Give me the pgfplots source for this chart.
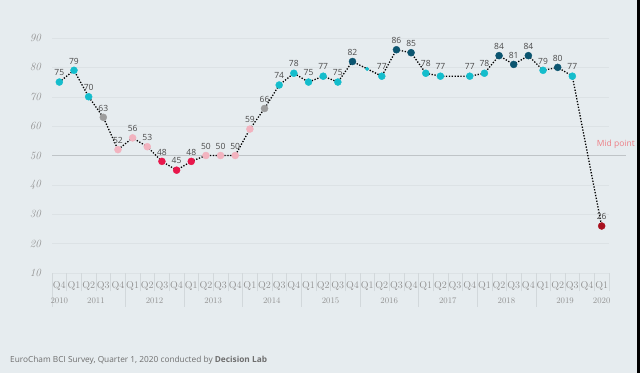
\documentclass[border=0pt]{standalone}
\usepackage{fontspec}
\usepackage{pgfplots}
\usepackage{pgfplotstable}
\pgfplotsset{compat=1.18}
\newfontfamily\opensans{Open Sans}
\definecolor{bgc}{HTML}{E6ECEF}
\definecolor{gridc}{HTML}{DCE2E5}
\definecolor{cellc}{HTML}{D2D8DB}
\definecolor{midc}{HTML}{BFC4C7}
\definecolor{tickc}{HTML}{929292}
\definecolor{labc}{HTML}{4A4A4A}
\definecolor{footc}{HTML}{6E6E6E}
\definecolor{midtxt}{HTML}{EE7F86}
\definecolor{cyanc}{HTML}{14BDCC}
\definecolor{darkc}{HTML}{0B5570}
\definecolor{grayc}{HTML}{9C9C9C}
\definecolor{pinkc}{HTML}{F2B3BF}
\definecolor{redc}{HTML}{E8174B}
\definecolor{dredc}{HTML}{A8101E}

\tikzset{yrlab/.style={anchor=base, font=\fontsize{8.5}{9}\selectfont\addfontfeatures{Numbers=OldStyle}, text=tickc, yshift=-30pt}}
\pgfplotsset{pts/.style={only marks, mark=*, mark size=3.5pt, mark options={draw=#1, fill=#1}, color=#1,
    nodes near coords={\pgfmathprintnumber[int detect, assume math mode=true]{\pgfplotspointmeta}},
    point meta=y,
    every node near coord/.append style={font=\opensans\fontsize{8.5}{9}\selectfont, text=labc, anchor=south, yshift=5.5pt, inner sep=0.5pt}}}

% whole series (for the dotted line)
\pgfplotstableread{
x y
0 75
1 79
2 70
3 63
4 52
5 56
6 53
7 48
8 45
9 48
10 50
11 50
12 50
13 59
14 66
15 74
16 78
17 75
18 77
19 75
20 82
21 79.5
22 77
23 86
24 85
25 78
26 77
28 77
29 78
30 84
31 81
32 84
33 79
34 80
35 77
37 26
}\bcidata

\begin{document}
\begin{tikzpicture}[x=1pt,y=1pt]
\fill[bgc] (0,0) rectangle (640,373);
\fill[black] (636.5,0) rectangle (640,373);
\begin{axis}[
  at={(52pt,100pt)}, anchor=south west,
  scale only axis, width=557pt, height=235pt,
  xmin=-0.5, xmax=37.5, ymin=10, ymax=90,
  clip=false,
  axis line style={draw=none},
  tick pos=left,
  tick align=outside,
  major tick length=0pt,
  minor tick length=18pt,
  minor x tick style={color=cellc, line width=0.4pt},
  ytick={10,20,30,40,50,60,70,80,90},
  yticklabels={10,20,30,40,50,60,70,80,90},
  yticklabel style={font=\fontsize{11}{11}\selectfont\itshape\addfontfeatures{Numbers=OldStyle}, text=tickc, anchor=east, inner sep=0pt, xshift=-11pt},
  ymajorgrids, grid style={color=gridc, line width=0.5pt},
  xtick={0,...,37},
  xticklabels={Q4,Q1,Q2,Q3,Q4,Q1,Q2,Q3,Q4,Q1,Q2,Q3,Q4,Q1,Q2,Q3,Q4,Q1,Q2,Q3,Q4,Q1,Q2,Q3,Q4,Q1,Q2,Q3,Q4,Q1,Q2,Q3,Q4,Q1,Q2,Q3,Q4,Q1},
  xticklabel style={font=\fontsize{10}{10}\selectfont\addfontfeatures{Numbers=OldStyle}, text=tickc, anchor=base, yshift=-15pt, inner sep=0pt},
  minor xtick={-0.5,0.5,...,37.5},
]
\draw[midc, line width=0.6pt] (axis cs:-0.5,50) -- (axis cs:38.65,50);
\pgfplotsinvokeforeach{-0.5,4.5,8.5,12.5,16.5,20.5,24.5,28.5,32.5}{
  \draw[cellc, line width=0.4pt] (axis cs:#1,10) -- ([yshift=-34pt]axis cs:#1,10);
}
\addplot[black, line width=1.3pt, dash pattern=on 1.3pt off 1.6pt, mark=none] table[x=x,y=y]{\bcidata};
% cyan
\addplot[pts=cyanc] coordinates {(0,75)(1,79)(2,70)(15,74)(16,78)(17,75)(18,77)(19,75)(22,77)(25,78)(26,77)(28,77)(29,78)(33,79)(35,77)};
% dark teal
\addplot[pts=darkc] coordinates {(20,82)(23,86)(24,85)(30,84)(31,81)(32,84)(34,80)};
% grey
\addplot[pts=grayc] coordinates {(3,63)(14,66)};
% pink
\addplot[pts=pinkc] coordinates {(4,52)(5,56)(6,53)(10,50)(11,50)(12,50)(13,59)};
% red
\addplot[pts=redc] coordinates {(7,48)(8,45)(9,48)};
% dark red
\addplot[pts=dredc] coordinates {(37,26)};
% small unlabeled point
\addplot[only marks, mark=*, mark size=1.8pt, color=cyanc] coordinates {(21,79.5)};
\node[yrlab] at (axis cs:0,10) {2010};
\node[yrlab] at (axis cs:2.5,10) {2011};
\node[yrlab] at (axis cs:6.5,10) {2012};
\node[yrlab] at (axis cs:10.5,10) {2013};
\node[yrlab] at (axis cs:14.5,10) {2014};
\node[yrlab] at (axis cs:18.5,10) {2015};
\node[yrlab] at (axis cs:22.5,10) {2016};
\node[yrlab] at (axis cs:26.5,10) {2017};
\node[yrlab] at (axis cs:30.5,10) {2018};
\node[yrlab] at (axis cs:34.5,10) {2019};
\node[yrlab] at (axis cs:37,10) {2020};
\end{axis}
\node[anchor=base east, font=\opensans\fontsize{8.5}{10}\selectfont, text=midtxt, inner sep=0pt] at (635,226) {Mid point};
\node[anchor=base west, font=\opensans\fontsize{8.3}{10}\selectfont, text=footc, inner sep=0pt] at (10,11) {EuroCham BCI Survey, Quarter 1, 2020 conducted by \textbf{Decision Lab}};
\pgfresetboundingbox
\useasboundingbox (0,0) rectangle (640,373);
\end{tikzpicture}
\end{document}
